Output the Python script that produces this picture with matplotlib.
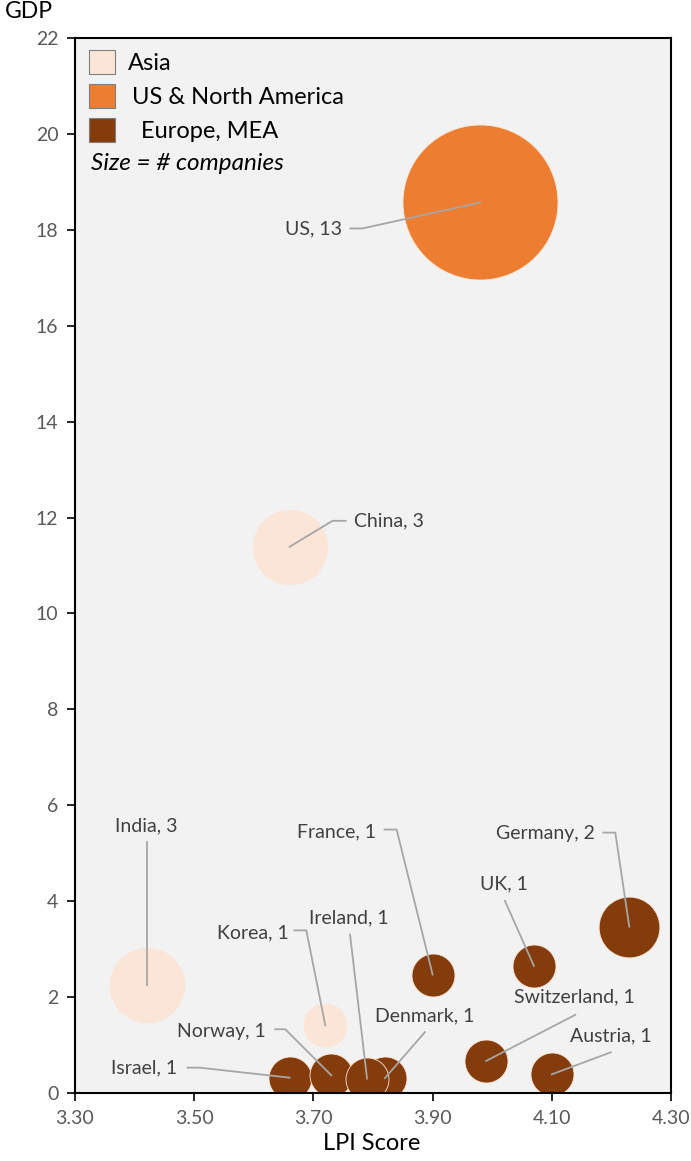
import numpy as np
import matplotlib.pyplot as plt
from matplotlib.patches import Rectangle

plt.rcParams['font.family'] = ['Lato', 'DejaVu Sans']

# 国別データ
countries = ['US', 'China', 'India', 'Korea', 'Israel', 'Norway', 'Denmark',
             'Ireland', 'France', 'UK', 'Switzerland', 'Austria', 'Germany']
lpi = [3.98, 3.66, 3.42, 3.72, 3.66, 3.73, 3.82, 3.79, 3.90, 4.07, 3.99, 4.10, 4.23]
gdp = [18.57, 11.39, 2.26, 1.41, 0.32, 0.37, 0.31, 0.30, 2.47, 2.65, 0.67, 0.39, 3.47]
companies = [13, 3, 3, 1, 1, 1, 1, 1, 1, 1, 1, 1, 2]
region = ['US & North America', 'Asia', 'Asia', 'Asia', 'Europe, MEA', 'Europe, MEA',
          'Europe, MEA', 'Europe, MEA', 'Europe, MEA', 'Europe, MEA', 'Europe, MEA',
          'Europe, MEA', 'Europe, MEA']

regions = ['Asia', 'US & North America', 'Europe, MEA']
colors = {'Asia': '#fbe5d6', 'US & North America': '#ed7d31', 'Europe, MEA': '#843c0c'}

# ラベル位置 (中心からのピクセルずれ) と引き出し線
label_pos = {
    'US':          ((-138, -26), 'right',  [(-130, -26), (-118, -26)]),
    'China':       ((64, 26),    'left',   [(56, 26), (43, 26)]),
    'India':       ((0, 159),    'center', [(0, 143)]),
    'Korea':       ((-37, 93),   'right',  [(-31, 95), (-19, 95)]),
    'Israel':      ((-112, 10),  'right',  [(-102, 10), (-90, 10)]),
    'Norway':      ((-66, 44),   'right',  [(-56, 46), (-46, 46)]),
    'Denmark':     ((40, 62),    'center', [(40, 46)]),
    'Ireland':     ((-18, 161),  'center', [(-17, 144)]),
    'France':      ((-57, 143),  'right',  [(-48, 145), (-36, 145)]),
    'UK':          ((-30, 82),   'center', [(-29, 65)]),
    'Switzerland': ((88, 64),    'center', [(89, 46)]),
    'Austria':     ((59, 38),    'center', [(59, 22)]),
    'Germany':     ((-34, 93),   'right',  [(-26, 94), (-14, 94)]),
}

W, H = 691, 1161
fig = plt.figure(figsize=(W / 100, H / 100), dpi=100)
ax = fig.add_axes([75 / W, 1 - 1093 / H, 596 / W, 1055 / H])
ax.set_facecolor('#f2f2f2')
ax.set_xlim(3.3, 4.3)
ax.set_ylim(0, 22)

s_unit = 958  # 1社あたりの面積 (pt^2)
for i in range(len(countries)):
    ax.scatter(lpi[i], gdp[i], s=companies[i] * s_unit, color=colors[region[i]],
               edgecolor='#fbe5d6', linewidth=0.6, zorder=2)

xt = np.arange(3.3, 4.31, 0.2)
ax.set_xticks(xt)
ax.set_xticklabels(['%.2f' % v for v in xt])
ax.set_yticks(range(0, 23, 2))
ax.tick_params(direction='out', length=6, width=1.2, colors='black',
               labelcolor='#595959', labelsize=14, pad=6)
for sp in ax.spines.values():
    sp.set_linewidth(1.5)

fig.canvas.draw()
to_data = ax.transData.inverted()
for i, c in enumerate(countries):
    (tx, ty), ha, pts = label_pos[c]
    cx, cy = ax.transData.transform((lpi[i], gdp[i]))
    line = [to_data.transform((cx + px, cy + py)) for px, py in pts] + [(lpi[i], gdp[i])]
    line = np.array(line)
    ax.plot(line[:, 0], line[:, 1], color='#a6a6a6', lw=1.3, zorder=3, clip_on=False)
    lx, ly = to_data.transform((cx + tx, cy + ty))
    ax.text(lx, ly, '%s, %d' % (c, companies[i]), ha=ha, va='center',
            fontsize=14, color='#404040', zorder=4)

# 凡例
def fp(x, y):
    return x / W, 1 - y / H

label_x = [128, 132, 141]
for k, r in enumerate(regions):
    y0 = 50 + 34 * k
    fig.patches.append(Rectangle(fp(89, y0 + 24), 26 / W, 24 / H, transform=fig.transFigure,
                                 facecolor=colors[r], edgecolor='#7f7f7f', lw=0.8))
    fig.text(*fp(label_x[k], y0 + 13), r, ha='left', va='center', fontsize=17, color='black')
fig.text(*fp(91, 164), 'Size = # companies', ha='left', va='center', fontsize=17.5,
         style='italic', color='black')

fig.text(*fp(29, 12), 'GDP', ha='center', va='center', fontsize=16.5, color='black')
fig.text(*fp(372, 1143), 'LPI Score', ha='center', va='center', fontsize=17, color='black')

plt.savefig('out.png', dpi=100)
